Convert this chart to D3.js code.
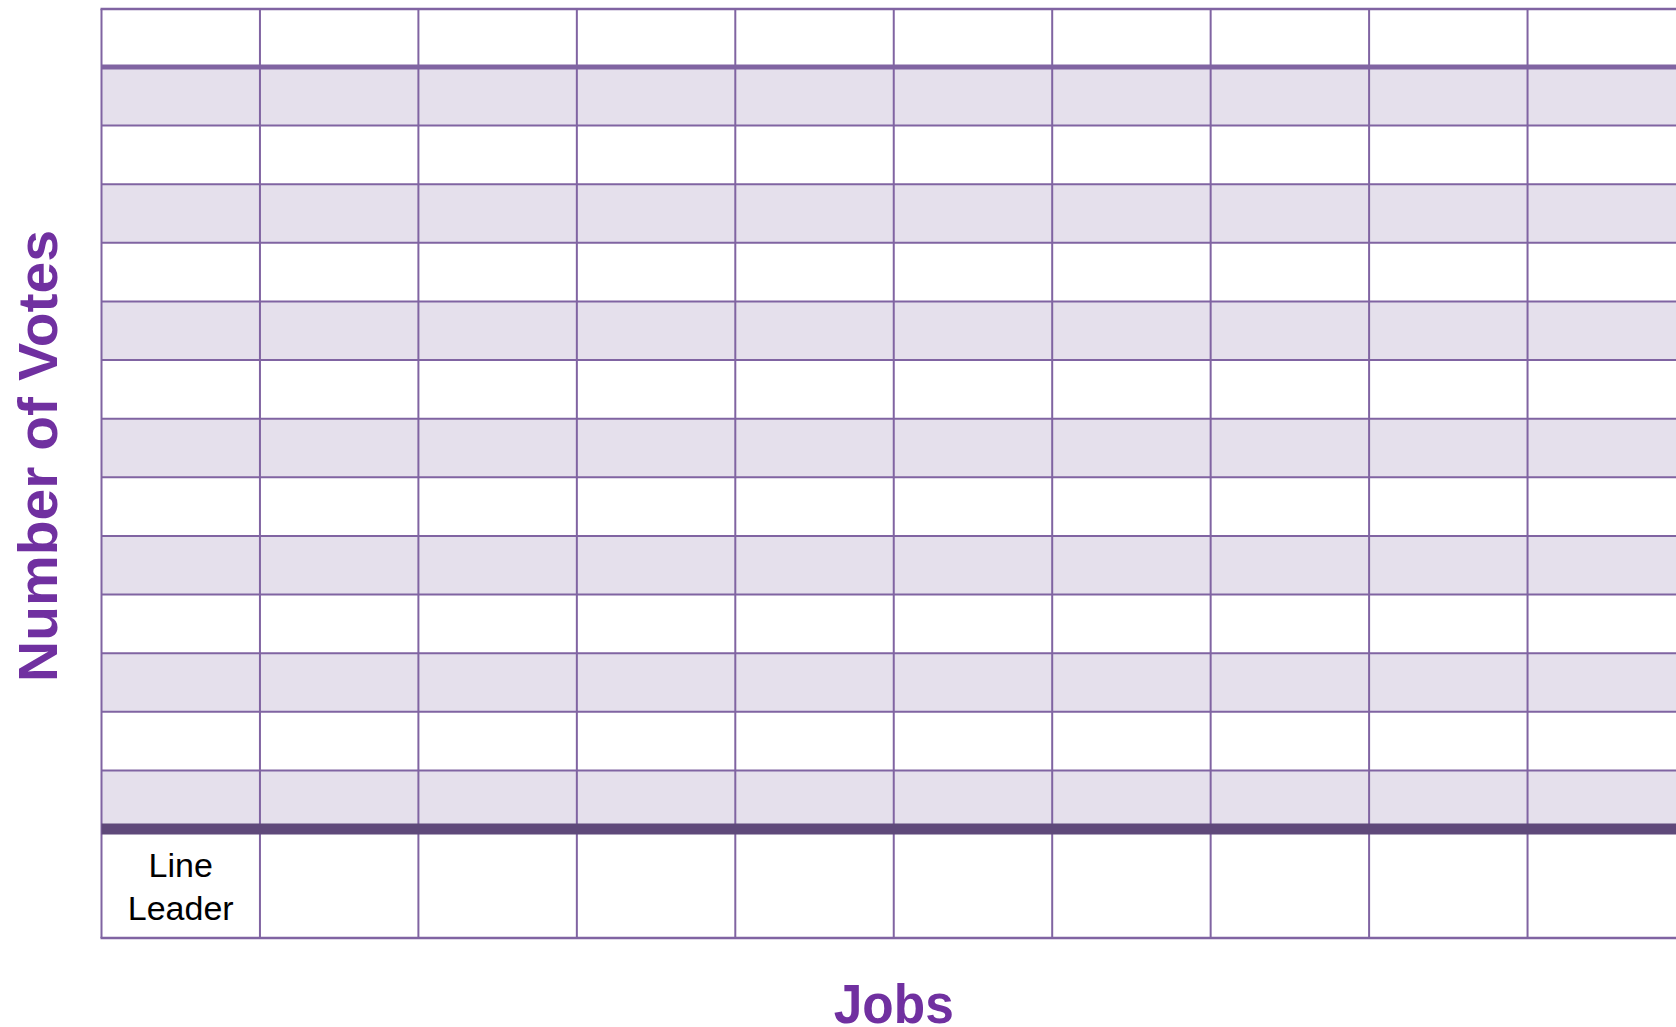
<!DOCTYPE html>
<html><head><meta charset="utf-8">
<script src="https://cdn.jsdelivr.net/npm/d3@7"></script>
<style>html,body{margin:0;padding:0;background:#fff;overflow:hidden}</style>
</head><body><svg id="c" width="1676" height="1027"></svg>
<script>
// Data
const jobs = ["Line Leader", "", "", "", "", "", "", "", "", ""];
const voteLevels = [1,2,3,4,5,6,7,8,9,10,11,12,13];
const xTitle = "Jobs";
const yTitle = "Number of Votes";

(function(){
const svg = d3.select("#c");
const gLeft = 101.5, gRight = 1686, gTop = 9, headerBottom = 67, plotBottom = 829, labelBottom = 938;

const x = d3.scaleBand().domain(d3.range(jobs.length)).range([gLeft, gRight]).padding(0);
const y = d3.scaleLinear().domain([0, voteLevels.length]).range([plotBottom, headerBottom]);

const lineCol = "#8064A2", fillCol = "#E5E0EC", darkCol = "#5F497A", titleCol = "#7030A0";

// stripes
svg.append("g").selectAll("rect").data(voteLevels.filter(d => d % 2 === 1))
  .join("rect")
  .attr("x", gLeft).attr("width", gRight-gLeft)
  .attr("y", d => y(d)).attr("height", d => y(d-1)-y(d))
  .attr("fill", fillCol);

// horizontal lines
svg.append("g").selectAll("line").data(voteLevels.slice(0,-1))
  .join("line")
  .attr("x1", gLeft).attr("x2", gRight)
  .attr("y1", d => y(d)).attr("y2", d => y(d))
  .attr("stroke", lineCol).attr("stroke-width", 2);
// top border & label bottom
[gTop, labelBottom].forEach(v => svg.append("line").attr("x1", gLeft-1).attr("x2", gRight)
  .attr("y1", v).attr("y2", v).attr("stroke", lineCol).attr("stroke-width", 2.4));
// vertical lines
svg.append("g").selectAll("line").data(d3.range(jobs.length+1))
  .join("line")
  .attr("x1", d => d < jobs.length ? x(d) : gRight).attr("x2", d => d < jobs.length ? x(d) : gRight)
  .attr("y1", gTop).attr("y2", labelBottom)
  .attr("stroke", lineCol).attr("stroke-width", 2);
// header separator (top of scale)
svg.append("line").attr("x1", gLeft).attr("x2", gRight)
  .attr("y1", y(voteLevels.length)).attr("y2", y(voteLevels.length))
  .attr("stroke", lineCol).attr("stroke-width", 5);
// baseline thick
svg.append("line").attr("x1", gLeft).attr("x2", gRight)
  .attr("y1", y(0)).attr("y2", y(0))
  .attr("stroke", darkCol).attr("stroke-width", 11);

// job labels
const lab = svg.append("g").selectAll("text").data(jobs.map((d,i)=>({d,i})))
  .join("text")
  .attr("text-anchor", "middle")
  .attr("font-family", "'Liberation Sans', Arial, sans-serif")
  .attr("font-size", 34)
  .attr("fill", "#000");
lab.each(function(o){
  const words = o.d.split(" ").filter(w=>w);
  const t = d3.select(this);
  words.forEach((w,k)=> t.append("tspan").attr("x", x(o.i)+x.bandwidth()/2)
    .attr("y", 877 + k*43.3 - (words.length-2)*21.6).text(w));
});

// titles
svg.append("text").attr("x", (gLeft+gRight)/2).attr("y", 1023)
  .attr("text-anchor","middle").attr("font-family","'Liberation Sans', Arial, sans-serif")
  .attr("font-weight","bold").attr("font-size",56).attr("fill",titleCol)
  .attr("textLength", 120).attr("lengthAdjust","spacingAndGlyphs").text(xTitle);
svg.append("text").attr("transform","translate(57,456) rotate(-90)")
  .attr("text-anchor","middle").attr("font-family","'Liberation Sans', Arial, sans-serif")
  .attr("font-weight","bold").attr("font-size",56).attr("fill",titleCol)
  .attr("textLength", 452).attr("lengthAdjust","spacingAndGlyphs").text(yTitle);
})();
</script></body></html>
